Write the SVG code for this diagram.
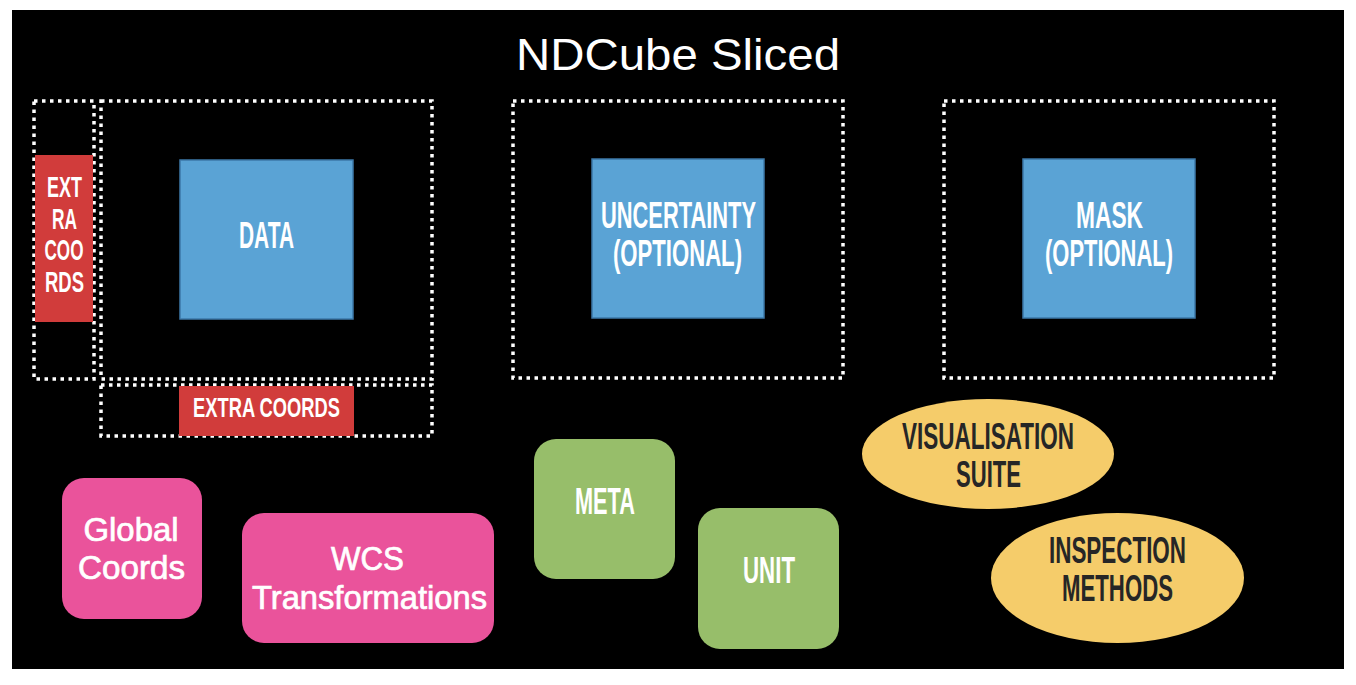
<svg xmlns="http://www.w3.org/2000/svg" width="1356" height="685" viewBox="0 0 1356 685">
<style>
.dot{fill:none;stroke:#fff;stroke-width:3.5;stroke-dasharray:3.5 4.5}
.blue{fill:#5AA3D5;stroke:#3D78A8;stroke-width:1.5}
.red{fill:#D13C3B}
.pink{fill:#EA539B}
.green{fill:#97BE6A}
.yel{fill:#F5CC6A}
.c{font-family:"Liberation Sans",Arial,sans-serif;font-weight:bold;text-anchor:middle;fill:#fff}
.dk{fill:#262626}
.h{font-family:"Liberation Sans",Arial,sans-serif;text-anchor:middle;fill:#fff}
.m{stroke:#fff;stroke-width:0.7}
</style>
<rect x="0" y="0" width="1356" height="685" fill="#fff"/>
<rect x="12" y="10" width="1332" height="659" fill="#000"/>
<text class="h" x="678" y="70" font-size="45" textLength="324" lengthAdjust="spacingAndGlyphs">NDCube Sliced</text>
<g id="frames">
<rect class="dot" x="34" y="101" width="60" height="278"/>
<rect class="dot" x="101" y="101" width="331" height="278"/>
<rect class="dot" x="101" y="385" width="331" height="51"/>
<rect class="dot" x="513" y="101" width="330" height="277"/>
<rect class="dot" x="944" y="101" width="330" height="277"/>
</g>
<g id="extra-coords-left">
<rect class="red" x="35" y="155" width="58" height="167"/>
<text class="c" font-size="30" x="64.5" y="197" textLength="35" lengthAdjust="spacingAndGlyphs">EXT</text>
<text class="c" font-size="30" x="64.5" y="229" textLength="25" lengthAdjust="spacingAndGlyphs">RA</text>
<text class="c" font-size="30" x="64" y="260" textLength="39" lengthAdjust="spacingAndGlyphs">COO</text>
<text class="c" font-size="30" x="64.5" y="292" textLength="39" lengthAdjust="spacingAndGlyphs">RDS</text>
</g>
<g id="data">
<rect class="blue" x="180" y="160" width="173" height="159"/>
<text class="c" font-size="36" x="266.5" y="248" textLength="55" lengthAdjust="spacingAndGlyphs">DATA</text>
</g>
<g id="extra-coords-bottom">
<rect class="red" x="179" y="386" width="175" height="50"/>
<text class="c" font-size="28" x="266.5" y="417" textLength="147" lengthAdjust="spacingAndGlyphs">EXTRA COORDS</text>
</g>
<g id="uncertainty">
<rect class="blue" x="592" y="159" width="172" height="159"/>
<text class="c" font-size="37" x="678.5" y="228" textLength="155" lengthAdjust="spacingAndGlyphs">UNCERTAINTY</text>
<text class="c" font-size="37" x="677.5" y="266" textLength="129" lengthAdjust="spacingAndGlyphs">(OPTIONAL)</text>
</g>
<g id="mask">
<rect class="blue" x="1023" y="159" width="172" height="159"/>
<text class="c" font-size="37" x="1109.5" y="228" textLength="67" lengthAdjust="spacingAndGlyphs">MASK</text>
<text class="c" font-size="37" x="1109" y="266" textLength="128" lengthAdjust="spacingAndGlyphs">(OPTIONAL)</text>
</g>
<g id="global-coords">
<rect class="pink" x="62" y="478" width="140" height="141" rx="22"/>
<text class="h m" font-size="33" x="131" y="541" textLength="95" lengthAdjust="spacingAndGlyphs">Global</text>
<text class="h m" font-size="33" x="131.5" y="579" textLength="107" lengthAdjust="spacingAndGlyphs">Coords</text>
</g>
<g id="wcs">
<rect class="pink" x="242" y="513" width="252" height="130" rx="22"/>
<text class="h m" font-size="33" x="367.5" y="570" textLength="73" lengthAdjust="spacingAndGlyphs">WCS</text>
<text class="h m" font-size="33" x="369.5" y="609" textLength="235" lengthAdjust="spacingAndGlyphs">Transformations</text>
</g>
<g id="meta">
<rect class="green" x="534" y="439" width="141" height="140" rx="22"/>
<text class="c" font-size="37" x="605" y="514" textLength="60" lengthAdjust="spacingAndGlyphs">META</text>
</g>
<g id="unit">
<rect class="green" x="698" y="508" width="141" height="141" rx="22"/>
<text class="c" font-size="37" x="769" y="583" textLength="52" lengthAdjust="spacingAndGlyphs">UNIT</text>
</g>
<g id="visualisation">
<ellipse class="yel" cx="988" cy="454" rx="126" ry="55"/>
<text class="c dk" font-size="36" x="988" y="449" textLength="172" lengthAdjust="spacingAndGlyphs">VISUALISATION</text>
<text class="c dk" font-size="36" x="988.5" y="487" textLength="65" lengthAdjust="spacingAndGlyphs">SUITE</text>
</g>
<g id="inspection">
<ellipse class="yel" cx="1117.5" cy="578" rx="126.5" ry="65"/>
<text class="c dk" font-size="36" x="1117.5" y="563" textLength="137" lengthAdjust="spacingAndGlyphs">INSPECTION</text>
<text class="c dk" font-size="36" x="1117.5" y="601" textLength="111" lengthAdjust="spacingAndGlyphs">METHODS</text>
</g>
<g id="connectors"></g>
</svg>
